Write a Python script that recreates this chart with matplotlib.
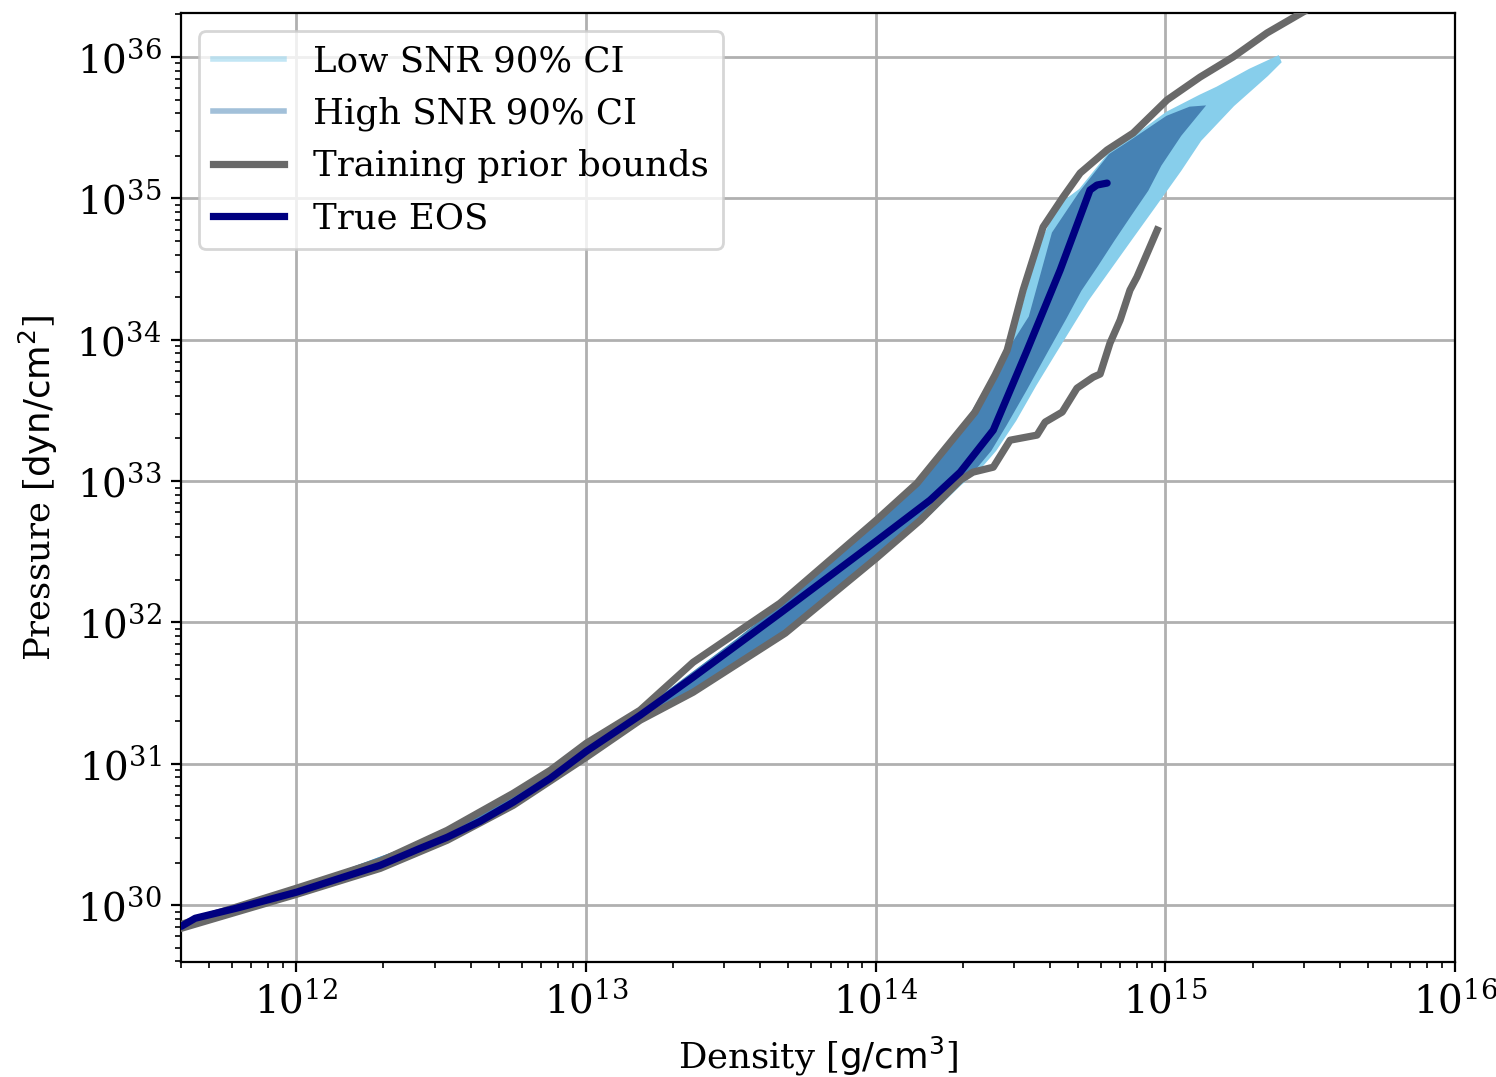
import numpy as np
import matplotlib
matplotlib.use("Agg")
import matplotlib.pyplot as plt
from matplotlib.lines import Line2D

plt.rcParams['font.family'] = 'serif'
plt.rcParams['font.size'] = 12.8

# values, as log10(density [g/cm^3]) and log10(pressure [dyn/cm^2])
true_logrho = [11.603, 11.651, 11.807, 12.000, 12.117, 12.290, 12.428, 12.521, 12.635, 12.749,
               12.877, 13.001, 13.187, 13.370, 13.670, 14.002, 14.188, 14.292, 14.406, 14.523,
               14.637, 14.740, 14.764, 14.799]
true_logp = [29.850, 29.907, 29.985, 30.091, 30.168, 30.282, 30.402, 30.480, 30.593, 30.728,
             30.897, 31.088, 31.343, 31.612, 32.065, 32.575, 32.865, 33.063, 33.360, 33.926,
             34.493, 35.059, 35.094, 35.108]

# training prior bounds
upper_logrho = [11.603, 12.000, 12.290, 12.521, 12.749, 12.877, 13.001, 13.187, 13.370, 13.670,
                14.002, 14.143, 14.292, 14.343, 14.412, 14.454, 14.509, 14.578, 14.647, 14.706,
                14.799, 14.889, 15.006, 15.120, 15.234, 15.351, 15.500]
upper_logp = [29.864, 30.119, 30.310, 30.529, 30.791, 30.954, 31.145, 31.379, 31.718, 32.136,
              32.723, 32.985, 33.360, 33.488, 33.749, 33.926, 34.351, 34.797, 35.009, 35.179,
              35.342, 35.462, 35.696, 35.858, 36.000, 36.170, 36.347]

lower_logrho = [11.603, 12.000, 12.290, 12.521, 12.749, 13.001, 13.187, 13.370, 13.688, 14.002,
                14.154, 14.292, 14.336, 14.406, 14.464, 14.557, 14.585, 14.644, 14.695, 14.751,
                14.775, 14.809, 14.844, 14.878, 14.902, 14.972]
lower_logp = [29.836, 30.076, 30.260, 30.459, 30.706, 31.046, 31.308, 31.506, 31.924, 32.454,
              32.723, 33.006, 33.063, 33.098, 33.289, 33.325, 33.417, 33.488, 33.657, 33.735,
              33.757, 33.976, 34.139, 34.351, 34.443, 34.776]

# high SNR 90% CI envelope
high_up_logrho = [11.603, 12.000, 12.521, 12.749, 13.001, 13.187, 13.291, 13.522, 13.670, 14.002,
                  14.143, 14.292, 14.454, 14.533, 14.613, 14.706, 14.809, 14.889, 15.006, 15.085,
                  15.130]
high_up_logp = [29.857, 30.112, 30.508, 30.763, 31.131, 31.372, 31.520, 31.874, 32.115, 32.702,
                32.964, 33.339, 33.905, 34.160, 34.754, 35.038, 35.306, 35.413, 35.575, 35.639,
                35.646]
high_lo_logrho = [11.603, 12.000, 12.521, 13.001, 13.187, 13.370, 13.688, 14.002, 14.188, 14.292,
                  14.343, 14.395, 14.447, 14.516, 14.592, 14.654, 14.706, 14.764, 14.820, 14.878,
                  14.937, 14.982, 15.051, 15.130]
high_lo_logp = [29.836, 30.084, 30.466, 31.060, 31.322, 31.520, 31.931, 32.469, 32.780, 32.992,
                33.091, 33.219, 33.396, 33.643, 33.926, 34.153, 34.351, 34.528, 34.705, 34.882,
                35.059, 35.236, 35.448, 35.646]

# low SNR 90% CI envelope
low_up_logrho = [11.603, 12.000, 12.521, 12.749, 13.001, 13.187, 13.291, 13.522, 13.670, 14.002,
                 14.143, 14.292, 14.412, 14.464, 14.499, 14.568, 14.637, 14.706, 14.809, 14.889,
                 15.006, 15.120, 15.179, 15.292, 15.389]
low_up_logp = [29.857, 30.112, 30.508, 30.763, 31.131, 31.372, 31.520, 31.874, 32.115, 32.702,
               32.964, 33.339, 33.714, 33.962, 34.153, 34.670, 34.953, 35.059, 35.321, 35.427,
               35.604, 35.724, 35.781, 35.908, 36.000]
low_lo_logrho = [11.603, 12.000, 12.521, 13.001, 13.187, 13.370, 13.688, 14.002, 14.188, 14.292,
                 14.361, 14.412, 14.481, 14.550, 14.613, 14.730, 14.809, 14.878, 14.965, 15.051,
                 15.120, 15.234, 15.351, 15.396]
low_lo_logp = [29.836, 30.084, 30.466, 31.060, 31.322, 31.520, 31.931, 32.469, 32.773, 32.978,
               33.098, 33.219, 33.431, 33.679, 33.891, 34.280, 34.507, 34.705, 34.953, 35.200,
               35.413, 35.660, 35.873, 35.965]


def band(up_x, up_y, lo_x, lo_y):
    xs = np.concatenate([up_x, lo_x[::-1]])
    ys = np.concatenate([up_y, lo_y[::-1]])
    return 10 ** xs, 10 ** ys


fig = plt.figure(figsize=(7.48, 5.385), dpi=200)
ax = fig.add_axes([0.121, 0.1068, 0.8516, 0.8812])

x, y = band(np.array(low_up_logrho), np.array(low_up_logp),
            np.array(low_lo_logrho), np.array(low_lo_logp))
ax.fill(x, y, color='skyblue', lw=1, ec='skyblue', zorder=2)
x, y = band(np.array(high_up_logrho), np.array(high_up_logp),
            np.array(high_lo_logrho), np.array(high_lo_logp))
ax.fill(x, y, color='steelblue', lw=1, ec='steelblue', zorder=3)

ax.plot(10 ** np.array(upper_logrho), 10 ** np.array(upper_logp), color='dimgray', lw=2.6, zorder=4)
ax.plot(10 ** np.array(lower_logrho), 10 ** np.array(lower_logp), color='dimgray', lw=2.6, zorder=4)
ax.plot(10 ** np.array(true_logrho), 10 ** np.array(true_logp), color='navy', lw=2.6, zorder=5,
        solid_capstyle='round')

ax.set_xscale('log')
ax.set_yscale('log')
ax.set_xlim(4.0e11, 1e16)
ax.set_ylim(3.96e29, 2.05e36)
ax.tick_params(which='major', labelsize=14)
ax.grid(True, which='major', color='#b0b0b0', lw=1.0)
ax.set_axisbelow(True)
ax.set_xlabel(r'Density [$\rm g/cm^3$]', labelpad=5)
ax.set_ylabel(r'Pressure [$\rm dyn/cm^2$]', labelpad=6)

handles = [Line2D([], [], color='skyblue', alpha=0.5, lw=2),
           Line2D([], [], color='steelblue', alpha=0.5, lw=2),
           Line2D([], [], color='dimgray', lw=2.6),
           Line2D([], [], color='navy', lw=2.6)]
labels = ['Low SNR 90% CI', 'High SNR 90% CI', 'Training prior bounds', 'True EOS']
ax.legend(handles, labels, loc='upper left')

fig.savefig('out.png', dpi=200)
